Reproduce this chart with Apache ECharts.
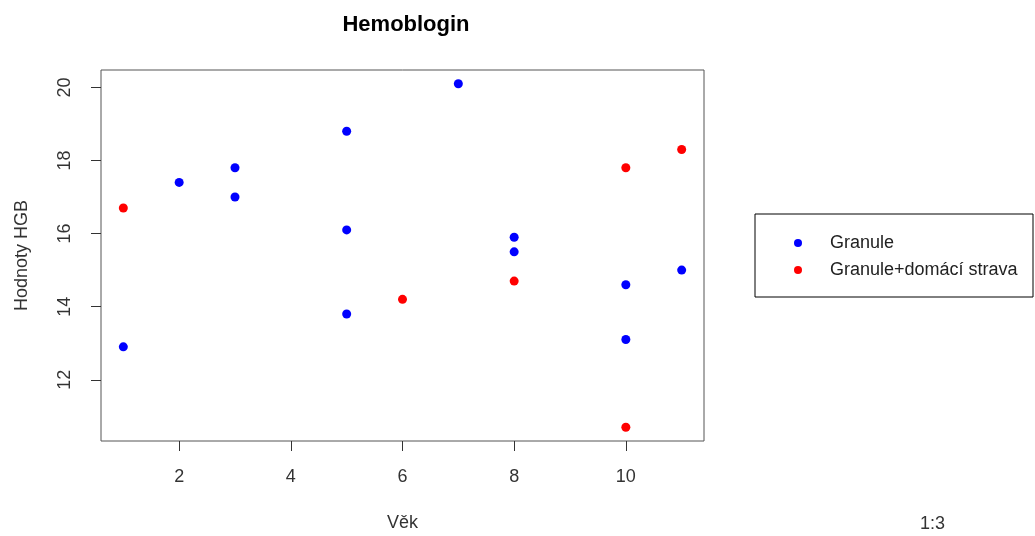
<!DOCTYPE html>
<html>
<head>
<meta charset="utf-8">
<script src="https://cdn.jsdelivr.net/npm/echarts@6/dist/echarts.min.js"></script>
<style>
  html, body { margin: 0; padding: 0; background: #fff; }
  #chart { width: 1035px; height: 536px; }
</style>
</head>
<body>
<div id="chart"></div>
<script>
// data: [age, HGB]
var granule = [
    [1, 12.9], [2, 17.4], [3, 17.8], [3, 17.0], [5, 18.8], [5, 16.1], [5, 13.8],
    [7, 20.1], [8, 15.9], [8, 15.5], [10, 14.6], [10, 13.1], [11, 15.0]
];
var granuleHome = [
    [1, 16.7], [6, 14.2], [8, 14.7], [10, 17.8], [10, 10.7], [11, 18.3]
];
var seriesNames = ['Granule', 'Granule+domácí strava'];
var xTicks = [2, 4, 6, 8, 10];
var yTicks = [12, 14, 16, 18, 20];

var chartDom = document.getElementById('chart');
var myChart = echarts.init(chartDom);
var font = 'Liberation Sans, Arial, sans-serif';

var option = {
    animation: false,
    title: {
        text: 'Hemoblogin',
        left: 401,
        top: 9,
        textAlign: 'center',
        textStyle: { fontFamily: font, fontSize: 22, fontWeight: 'bold', color: '#000' }
    },
    grid: {
        left: 101, top: 70, width: 603, height: 371,
        outerBoundsMode: 'none',
        show: true, borderColor: '#555', borderWidth: 1, backgroundColor: 'transparent'
    },
    xAxis: {
        type: 'value',
        min: 0.6, max: 11.4,
        name: 'Věk',
        nameLocation: 'middle',
        nameGap: 73,
        nameTextStyle: { fontFamily: font, fontSize: 18, color: '#333' },
        axisLine: { show: false },
        splitLine: { show: false },
        axisTick: { show: true, length: 10, customValues: xTicks, lineStyle: { color: '#333' } },
        axisLabel: { customValues: xTicks, margin: 27, fontFamily: font, fontSize: 18, color: '#333' }
    },
    yAxis: {
        type: 'value',
        min: 10.324, max: 20.476,
        name: 'Hodnoty HGB',
        nameLocation: 'middle',
        nameGap: 70,
        nameRotate: 90,
        nameTextStyle: { fontFamily: font, fontSize: 18, color: '#333' },
        axisLine: { show: false },
        splitLine: { show: false },
        axisTick: { show: true, length: 10, customValues: yTicks, lineStyle: { color: '#333' } },
        axisLabel: { customValues: yTicks, rotate: 90, margin: 27, fontFamily: font, fontSize: 18, color: '#333' }
    },
    legend: {
        orient: 'vertical',
        left: 789,
        top: 229,
        itemWidth: 8,
        itemHeight: 8,
        itemGap: 9,
        icon: 'circle',
        data: seriesNames,
        textStyle: { fontFamily: font, fontSize: 18, color: '#222', padding: [0, 0, 0, 23] }
    },
    graphic: [
        {
            type: 'rect',
            shape: { x: 755, y: 214, width: 278, height: 83 },
            style: { fill: 'none', stroke: '#000', lineWidth: 1 }
        },
        {
            type: 'text',
            left: 920, top: 515,
            style: { text: '1:3', font: '18px ' + font, fill: '#333' }
        }
    ],
    series: [
        {
            name: seriesNames[0],
            type: 'scatter',
            symbolSize: 9,
            itemStyle: { color: '#0000ff', opacity: 1 },
            data: granule
        },
        {
            name: seriesNames[1],
            type: 'scatter',
            symbolSize: 9,
            itemStyle: { color: '#ff0000', opacity: 1 },
            data: granuleHome
        }
    ]
};

option && myChart.setOption(option);
</script>
</body>
</html>
